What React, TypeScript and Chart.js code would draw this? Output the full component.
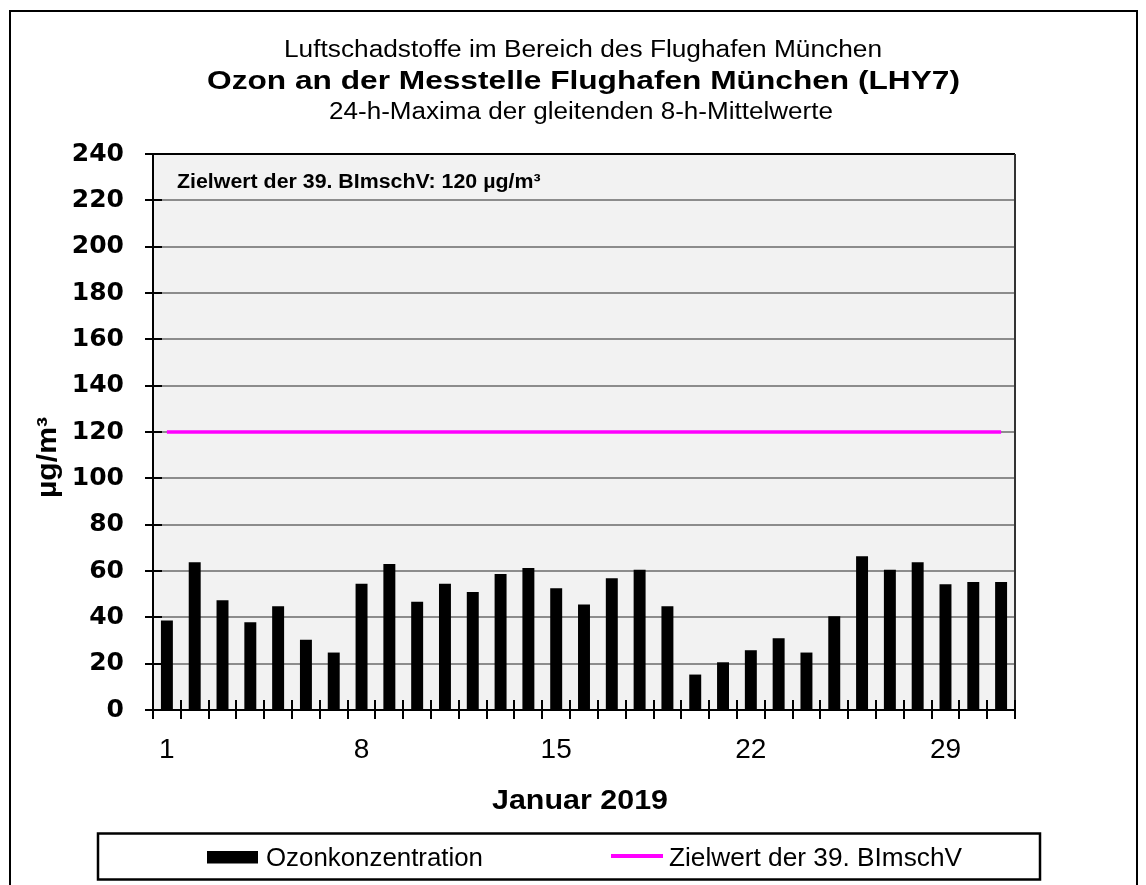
import React, { useEffect, useRef } from 'react';
import { Chart, registerables } from 'chart.js';

Chart.register(...registerables);

// ---- data ----
const DAYS = ['1', '2', '3', '4', '5', '6', '7', '8', '9', '10', '11', '12', '13', '14', '15', '16', '17', '18', '19', '20', '21', '22', '23', '24', '25', '26', '27', '28', '29', '30', '31'];
const OZONE = [38.6, 63.8, 47.4, 37.9, 44.8, 30.3, 24.8, 54.5, 63.0, 46.7, 54.5, 50.9, 58.7, 61.3, 52.6, 45.5, 56.9, 60.5, 44.8, 15.3, 20.6, 25.8, 31.0, 24.8, 40.5, 66.4, 60.5, 63.8, 54.3, 55.2, 55.2];
const TARGET_VALUE = 120;
const TARGET = DAYS.map(() => TARGET_VALUE);
const LABELED_DAYS = ['1', '8', '15', '22', '29'];
const Y_MIN = 0;
const Y_MAX = 240;
const Y_STEP = 20;

const TITLE_1 = 'Luftschadstoffe im Bereich des Flughafen München';
const TITLE_2 = 'Ozon an der Messtelle Flughafen München (LHY7)';
const TITLE_3 = '24-h-Maxima der gleitenden 8-h-Mittelwerte';
const NOTE = 'Zielwert der 39. BImschV: 120 µg/m³';
const Y_TITLE = 'µg/m³';
const X_TITLE = 'Januar 2019';
const SERIES_BAR = 'Ozonkonzentration';
const SERIES_LINE = 'Zielwert der 39. BImschV';

const W = 1146;
const H = 885;
const SANS = '"Liberation Sans", Arial, sans-serif';

function drawFitted(ctx: CanvasRenderingContext2D, text: string, font: string, left: number, right: number, baseline: number) {
  ctx.save();
  ctx.font = font;
  ctx.textAlign = 'left';
  ctx.textBaseline = 'alphabetic';
  const w = ctx.measureText(text).width;
  const sx = (right - left) / w;
  ctx.translate(left, baseline);
  ctx.scale(sx, 1);
  ctx.fillStyle = '#000';
  ctx.fillText(text, 0, 0);
  ctx.restore();
}

const decorPlugin = {
  id: 'decor',
  beforeDraw(chart: any) {
    const { ctx, chartArea } = chart;
    ctx.save();
    ctx.fillStyle = '#ffffff';
    ctx.fillRect(0, 0, W, H);
    ctx.fillStyle = '#f2f2f2';
    ctx.fillRect(chartArea.left, chartArea.top, chartArea.right - chartArea.left, chartArea.bottom - chartArea.top);
    ctx.strokeStyle = '#000';
    ctx.lineWidth = 2;
    ctx.strokeRect(10, 11, 1127, 900);
    ctx.restore();
  },
  afterDraw(chart: any) {
    const { ctx, chartArea } = chart;
    const xs = chart.scales.x;
    const ys = chart.scales.y;
    ctx.save();
    // plot frame top/right
    ctx.strokeStyle = '#000';
    ctx.lineWidth = 2;
    ctx.beginPath();
    ctx.moveTo(chartArea.left, chartArea.top);
    ctx.lineTo(chartArea.right, chartArea.top);
    ctx.stroke();
    ctx.strokeStyle = '#333';
    ctx.beginPath();
    ctx.moveTo(chartArea.right, chartArea.top);
    ctx.lineTo(chartArea.right, chartArea.bottom);
    ctx.stroke();

    // crossing tick marks
    ctx.strokeStyle = '#000';
    ctx.lineWidth = 2;
    const n = DAYS.length;
    const cw = (chartArea.right - chartArea.left) / n;
    for (let i = 0; i <= n; i++) {
      const x = Math.round(xs.getPixelForValue(Math.min(i, n - 1)) + (i < n ? -cw / 2 : cw / 2));
      ctx.beginPath();
      ctx.moveTo(x, chartArea.bottom - 10);
      ctx.lineTo(x, chartArea.bottom + 9);
      ctx.stroke();
    }
    for (let v = Y_MIN; v <= Y_MAX; v += Y_STEP) {
      const y = Math.round(ys.getPixelForValue(v));
      ctx.beginPath();
      ctx.moveTo(chartArea.left - 8, y);
      ctx.lineTo(chartArea.left + 9, y);
      ctx.stroke();
    }

    // titles
    drawFitted(ctx, TITLE_1, `23.5px ${SANS}`, 284, 882, 56.5);
    drawFitted(ctx, TITLE_2, `bold 26px ${SANS}`, 207, 960, 89);
    drawFitted(ctx, TITLE_3, `23.5px ${SANS}`, 329, 833, 119);
    drawFitted(ctx, NOTE, `bold 19.5px ${SANS}`, 177, 540.5, 188);
    drawFitted(ctx, X_TITLE, `bold 27px ${SANS}`, 492, 668, 808.5);

    // y title rotated
    ctx.save();
    ctx.translate(56, 457.5);
    ctx.rotate(-Math.PI / 2);
    drawFitted(ctx, Y_TITLE, `bold 27px ${SANS}`, -40.5, 40.5, 0);
    ctx.restore();

    // legend
    ctx.strokeStyle = '#000';
    ctx.lineWidth = 2.5;
    ctx.strokeRect(98, 833.5, 942, 46);
    const ds0 = chart.data.datasets[0];
    const ds1 = chart.data.datasets[1];
    ctx.fillStyle = ds0.backgroundColor;
    ctx.fillRect(207, 851, 51, 12.5);
    drawFitted(ctx, ds0.label, `25px ${SANS}`, 266, 483, 866);
    ctx.strokeStyle = ds1.borderColor;
    ctx.lineWidth = 4;
    ctx.beginPath();
    ctx.moveTo(611, 856);
    ctx.lineTo(663, 856);
    ctx.stroke();
    drawFitted(ctx, ds1.label, `25px ${SANS}`, 669, 962, 866);
    ctx.restore();
  },
};

export default function App() {
  const ref = useRef<HTMLCanvasElement>(null);
  useEffect(() => {
    if (!ref.current) return;
    const chart = new Chart(ref.current, {
      type: 'bar',
      data: {
        labels: DAYS,
        datasets: [
          {
            type: 'bar',
            label: SERIES_BAR,
            data: OZONE,
            backgroundColor: '#000000',
            borderWidth: 0,
            barPercentage: 0.43,
            categoryPercentage: 1,
            order: 2,
          } as any,
          {
            type: 'line',
            label: SERIES_LINE,
            data: TARGET,
            borderColor: '#ff00ff',
            backgroundColor: '#ff00ff',
            borderWidth: 3.5,
            pointRadius: 0,
            fill: false,
            order: 1,
          } as any,
        ],
      },
      options: {
        responsive: false,
        animation: false,
        devicePixelRatio: 1,
        layout: { padding: { top: 154, right: 131, left: 0, bottom: 0 } },
        plugins: {
          legend: { display: false },
          tooltip: { enabled: false },
          title: { display: false },
        },
        scales: {
          x: {
            grid: { display: false, drawTicks: false },
            border: { display: true, color: '#000', width: 2 },
            ticks: {
              autoSkip: false,
              maxRotation: 0,
              minRotation: 0,
              padding: 23,
              color: '#000',
              font: { family: SANS, size: 28 },
              callback: (_v: any, i: number) => (LABELED_DAYS.includes(DAYS[i]) ? DAYS[i] : ''),
            },
            afterFit: (s: any) => {
              s.height = 175;
            },
          },
          y: {
            min: Y_MIN,
            max: Y_MAX,
            ticks: {
              stepSize: Y_STEP,
              padding: 29,
              color: '#000',
              font: { family: '"DejaVu Sans", sans-serif', weight: 'bold', size: 25 },
            },
            grid: { color: '#8c8c8c', lineWidth: 2, drawTicks: false },
            border: { display: true, color: '#000', width: 2 },
            afterFit: (s: any) => {
              s.width = 153;
            },
          },
        },
      } as any,
      plugins: [decorPlugin],
    });
    return () => chart.destroy();
  }, []);
  return (
    <div style={{ position: 'absolute', left: 0, top: 0, width: W, height: H }}>
      <canvas ref={ref} width={W} height={H} style={{ display: 'block', width: W, height: H }} />
    </div>
  );
}
